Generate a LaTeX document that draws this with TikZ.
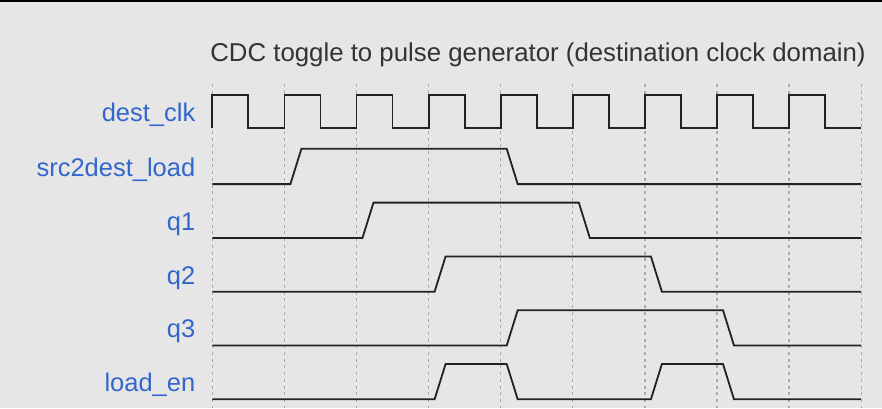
\documentclass[tikz,border=0pt]{standalone}
\usepackage{fontspec}
\setmainfont{Liberation Sans}
\usepackage{xcolor}
\usepackage{tikz}
\definecolor{bgc}{RGB}{230,230,230}
\definecolor{lblue}{RGB}{51,102,204}
\definecolor{wave}{RGB}{34,34,34}
\definecolor{gridc}{RGB}{170,170,170}

\begin{document}
\begin{tikzpicture}[x=1pt,y=-1pt,
  sig/.style={draw=wave,line width=1.8pt},
  gridln/.style={draw=gridc,line width=1.3pt,dash pattern=on 3pt off 3.7pt},
  lbl/.style={anchor=base east,inner sep=0pt,text=lblue,font=\fontsize{25.5}{30}\selectfont},
  ttl/.style={anchor=base,inner sep=0pt,text=black!80,font=\fontsize{25.8}{30}\selectfont}]
 \useasboundingbox (0,0) rectangle (882,408);
 \fill[bgc] (0,0) rectangle (882,408);
 \fill[black] (0,0) rectangle (882,2);
 \node[ttl] (title) at (538,61.7) {CDC toggle to pulse generator (destination clock domain)};
 % clock edges grid
 \foreach \i in {0,...,9}
   \draw[gridln] (212.3+72.1*\i,84) -- (212.3+72.1*\i,408);
 % labels
 \node[lbl] (lclk) at (195.5,121.7) {dest\_clk};
 \node[lbl] (lsrc) at (195.5,176.5) {src2dest\_load};
 \node[lbl] (lq1)  at (195.5,230.3) {q1};
 \node[lbl] (lq2)  at (195.5,284.1) {q2};
 \node[lbl] (lq3)  at (195.5,337.9) {q3};
 \node[lbl] (lld)  at (195.5,391.7) {load\_en};
 % waves
 \draw[sig] (212.3,128.3)
   foreach \i [evaluate=\i as \x using 212.3+72.1*\i] in {0,...,8}
   { -- (\x,128.3) -- (\x,95) -- (\x+36.05,95) -- (\x+36.05,128.3) } -- (861.2,128.3);
 \draw[sig] (212.3,184.1) -- (290.4,184.1) -- (301.4,148.8) -- (506.7,148.8) -- (517.7,184.1) -- (861.2,184.1);
 \draw[sig] (212.3,237.9) -- (362.5,237.9) -- (373.5,202.6) -- (578.8,202.6) -- (589.8,237.9) -- (861.2,237.9);
 \draw[sig] (212.3,291.7) -- (434.6,291.7) -- (445.6,256.4) -- (650.9,256.4) -- (661.9,291.7) -- (861.2,291.7);
 \draw[sig] (212.3,345.5) -- (506.7,345.5) -- (517.7,310.2) -- (723.0,310.2) -- (734.0,345.5) -- (861.2,345.5);
 \draw[sig] (212.3,399.3) -- (434.6,399.3) -- (445.6,364.0) -- (506.7,364.0) -- (517.7,399.3)
   -- (650.9,399.3) -- (661.9,364.0) -- (723.0,364.0) -- (734.0,399.3) -- (861.2,399.3);
\end{tikzpicture}
\end{document}
